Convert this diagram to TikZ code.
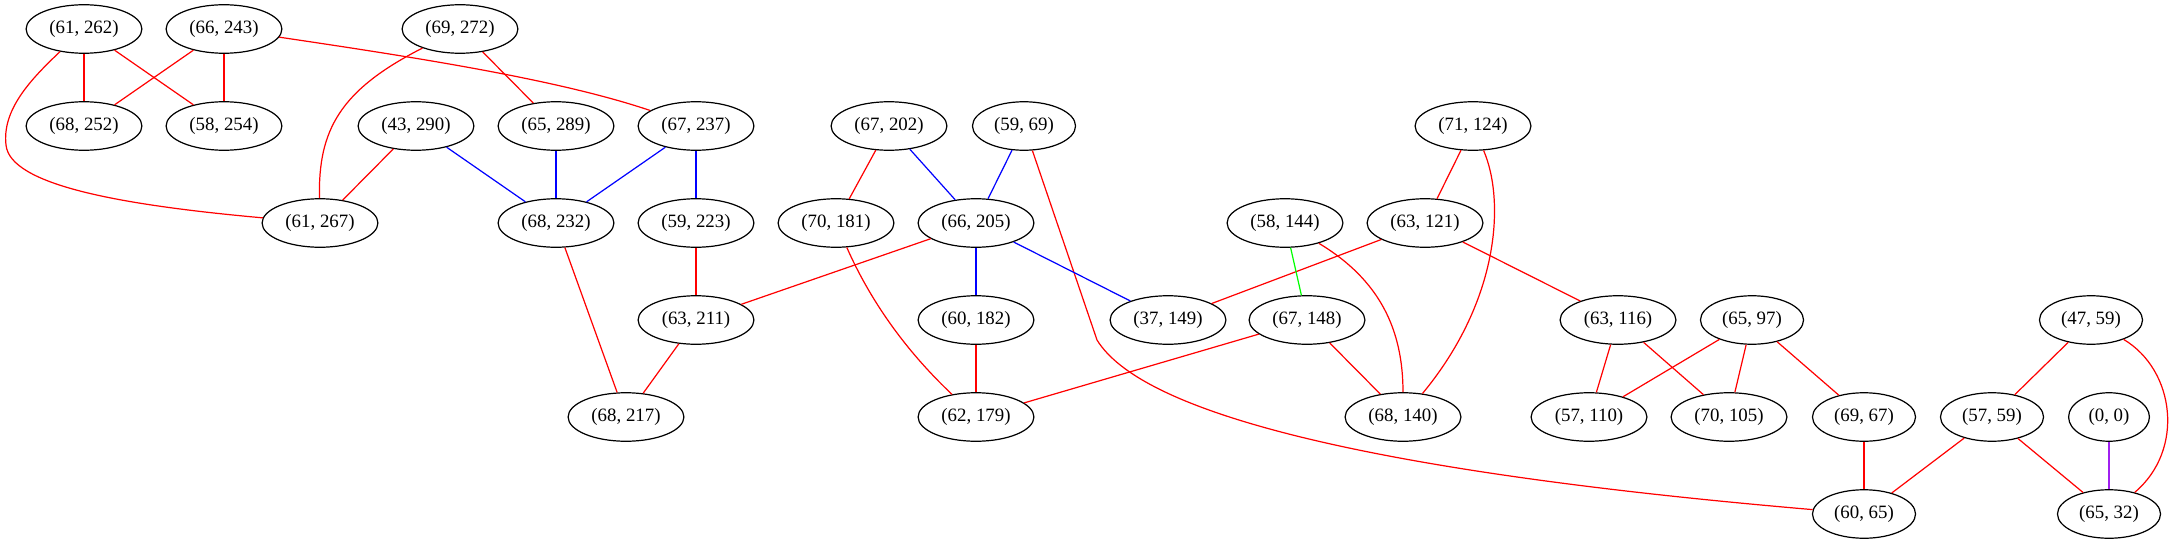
\documentclass[tikz,border=0pt]{standalone}
\usepackage{fontspec}
\setmainfont{Liberation Serif}
\usetikzlibrary{shapes.geometric}
\definecolor{gvpurple}{HTML}{A020F0}
\begin{document}
\begin{tikzpicture}[x=0.74239pt,y=-0.74239pt,
  nd/.style={draw,ellipse,line width=0.9pt,minimum height=36pt,inner sep=0pt,font=\fontsize{14}{16}\selectfont},
  w9/.style={nd,minimum width=86pt},
  w8/.style={nd,minimum width=76.5pt},
  w6/.style={nd,minimum width=60pt},
  re/.style={draw=red,line width=0.9pt},
  be/.style={draw=blue,line width=0.9pt},
  ge/.style={draw=green,line width=0.9pt},
  pe/.style={draw=gvpurple,line width=0.9pt}]
\useasboundingbox (0,0) rectangle (2174,539);
% row 1
\node[w9] (a) at (84,29) {(61, 262)};
\node[w9] (b) at (224,29) {(66, 243)};
\node[w9] (c) at (460,29) {(69, 272)};
% row 2
\node[w9] (d) at (84,126) {(68, 252)};
\node[w9] (e) at (224,126) {(58, 254)};
\node[w9] (f) at (416,126) {(43, 290)};
\node[w9] (g) at (556,126) {(65, 289)};
\node[w9] (h) at (696,126) {(67, 237)};
\node[w9] (i) at (889,126) {(67, 202)};
\node[w8] (j) at (1024,126) {(59, 69)};
\node[w9] (k) at (1473,126) {(71, 124)};
% row 3
\node[w9] (l) at (320,223) {(61, 267)};
\node[w9] (m) at (556,223) {(68, 232)};
\node[w9] (n) at (696,223) {(59, 223)};
\node[w9] (o) at (836,223) {(70, 181)};
\node[w9] (p) at (976,223) {(66, 205)};
\node[w9] (q) at (1285,223) {(58, 144)};
\node[w9] (r) at (1425,223) {(63, 121)};
% row 4
\node[w9] (s) at (696,320) {(63, 211)};
\node[w9] (t) at (976,320) {(60, 182)};
\node[w9] (u) at (1168,320) {(37, 149)};
\node[w9] (v) at (1307,320) {(67, 148)};
\node[w9] (w) at (1618,320) {(63, 116)};
\node[w8] (x) at (1752,320) {(65, 97)};
\node[w8] (y) at (2091,320) {(47, 59)};
% row 5
\node[w9] (z) at (626,417) {(68, 217)};
\node[w9] (A) at (976,417) {(62, 179)};
\node[w9] (B) at (1403,417) {(68, 140)};
\node[w9] (C) at (1589,417) {(57, 110)};
\node[w9] (D) at (1729,417) {(70, 105)};
\node[w8] (E) at (1864,417) {(69, 67)};
\node[w8] (F) at (1992,417) {(57, 59)};
\node[w6] (G) at (2109,417) {(0, 0)};
% row 6
\node[w8] (H) at (1864,514) {(60, 65)};
\node[w8] (I) at (2109,514) {(65, 32)};

% red straight edges
\draw[re] (a) -- (d);
\draw[re] (a) -- (e);
\draw[re] (b) -- (d);
\draw[re] (b) -- (e);
\draw[re] (c) -- (g);
\draw[re] (f) -- (l);
\draw[re] (m) -- (z);
\draw[re] (n) -- (s);
\draw[re] (s) -- (z);
\draw[re] (i) -- (o);
\draw[re] (p) -- (s);
\draw[re] (t) -- (A);
\draw[re] (k) -- (r);
\draw[re] (r) -- (u);
\draw[re] (r) -- (w);
\draw[re] (v) -- (A);
\draw[re] (v) -- (B);
\draw[re] (w) -- (C);
\draw[re] (w) -- (D);
\draw[re] (x) -- (C);
\draw[re] (x) -- (D);
\draw[re] (x) -- (E);
\draw[re] (E) -- (H);
\draw[re] (y) -- (F);
\draw[re] (F) -- (H);
\draw[re] (F) -- (I);
% red curved edges
\draw[re] (a) .. controls (30,80) and (2,110) .. (6,145)
          .. controls (10,185) and (120,205) .. (l);
\draw[re] (b) .. controls (420,58) and (560,80) .. (h);
\draw[re] (c) .. controls (340,90) and (318,130) .. (l);
\draw[re] (j) -- (1097,340) .. controls (1140,410) and (1350,470) .. (H);
\draw[re] (o) .. controls (870,300) and (905,350) .. (A);
\draw[re] (q) .. controls (1380,280) and (1403,330) .. (B);
\draw[re] (k) .. controls (1505,200) and (1500,300) .. (B);
\draw[re] (y) .. controls (2175,370) and (2185,450) .. (I);
% blue edges
\draw[be] (f) -- (m);
\draw[be] (g) -- (m);
\draw[be] (h) -- (m);
\draw[be] (h) -- (n);
\draw[be] (i) -- (p);
\draw[be] (j) -- (p);
\draw[be] (p) -- (t);
\draw[be] (p) -- (u);
% green and purple
\draw[ge] (q) -- (v);
\draw[pe] (G) -- (I);
\end{tikzpicture}
\end{document}
